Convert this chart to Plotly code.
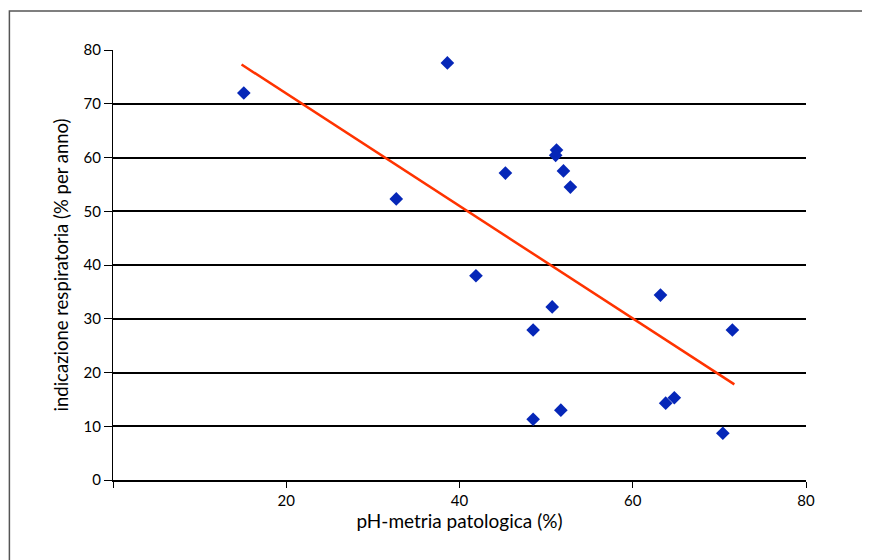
import plotly.graph_objects as go

# data
ph_metria = [15.1, 38.6, 32.7, 45.3, 51.2, 51.1, 52.0, 52.8, 41.9, 50.7, 48.5, 63.2, 71.5, 48.5, 51.7, 63.8, 64.8, 70.4]
indicazione = [72.0, 77.6, 52.3, 57.1, 61.4, 60.4, 57.5, 54.5, 38.0, 32.2, 27.9, 34.4, 27.9, 11.3, 13.0, 14.3, 15.3, 8.7]
trend_x = [14.84, 71.73]
trend_y = [77.3, 17.8]
x_ticks = [0, 20, 40, 60, 80]
x_tick_labels = ["", "20", "40", "60", "80"]
y_ticks = [0, 10, 20, 30, 40, 50, 60, 70, 80]

fig = go.Figure()
fig.add_trace(go.Scatter(
    x=ph_metria, y=indicazione, mode="markers",
    marker=dict(symbol="diamond", size=10.5, color="#0627B8", line=dict(width=0)),
    showlegend=False,
))
fig.add_trace(go.Scatter(
    x=trend_x, y=trend_y, mode="lines",
    line=dict(color="#FF3300", width=2.5),
    showlegend=False,
))

font_family = "Lato, 'DejaVu Sans', sans-serif"
# the page body adds an 8px offset; margins compensate for it
fig.update_layout(
    width=870, height=560,
    margin=dict(l=104.5, r=72, t=42, b=88),
    paper_bgcolor="white", plot_bgcolor="white",
    font=dict(family=font_family, color="black", size=15),
    xaxis=dict(
        range=[0, 80], tickvals=x_ticks, ticktext=x_tick_labels,
        showgrid=False, zeroline=False,
        showline=True, linecolor="black", linewidth=1.5,
        ticks="outside", ticklen=6, tickcolor="black", tickwidth=1,
        tickfont=dict(size=15),
        title=dict(text="pH-metria patologica (%)", font=dict(size=19), standoff=6),
    ),
    yaxis=dict(
        range=[0, 80], tickvals=y_ticks,
        showgrid=True, gridcolor="black", gridwidth=1.5,
        zeroline=False,
        showline=True, linecolor="black", linewidth=1,
        ticks="outside", ticklen=8, tickcolor="black", tickwidth=1,
        tickfont=dict(size=15),
        title=dict(text="indicazione respiratoria (% per anno)", font=dict(size=18.5), standoff=10),
    ),
    shapes=[dict(
        type="rect", xref="paper", yref="paper",
        x0=-0.1495, x1=1.12, y0=-0.25, y1=(480 - 11) / 430,
        line=dict(color="#555555", width=1.5), fillcolor="rgba(0,0,0,0)", layer="below",
    )],
)

fig.write_html("out.html")
